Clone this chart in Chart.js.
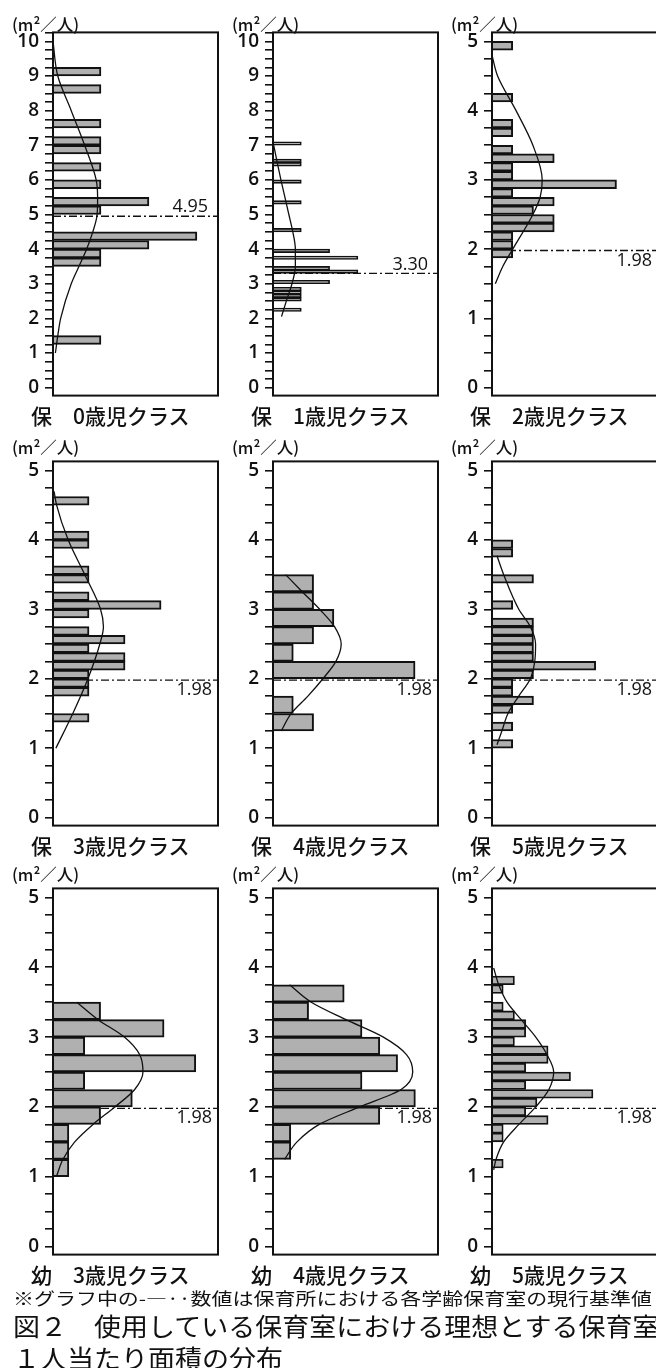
<!DOCTYPE html>
<html lang="ja">
<head>
<meta charset="utf-8">
<title>図2 保育室1人当たり面積の分布</title>
<script src="https://cdn.jsdelivr.net/npm/chart.js@4.4.1/dist/chart.umd.min.js"></script>
<style>
html, body { margin: 0; padding: 0; background: #fff; width: 656px; height: 1368px; overflow: hidden; }
body { position: relative; font-family: "Noto Sans CJK JP", sans-serif; color: #111; }
canvas { position: absolute; }
.unit { position: absolute; font-size: 16.5px; font-weight: 500; line-height: 1; white-space: nowrap; }
.cap { position: absolute; font-size: 21px; font-weight: 500; line-height: 1; white-space: nowrap; }
.note { position: absolute; left: 13px; line-height: 1; white-space: nowrap; transform-origin: left center; }
</style>
</head>
<body>
<script>
// 保育所 0歳児 (bins 0.25)
const hoiku0Bins = [9.125, 8.625, 7.625, 7.125, 6.875, 6.375, 5.875, 5.375, 5.125, 4.375, 4.125, 3.875, 3.625, 1.375];
const hoiku0Counts = [1, 1, 1, 1, 1, 1, 1, 2, 1, 3, 2, 1, 1, 1];
const hoiku0CurveAt = [10, 9, 8, 7, 6, 5.5, 5, 4.5, 4, 3.5, 3, 2, 1.5, 1];
const hoiku0Curve = [0, 0.1, 0.38, 0.66, 0.9, 0.93, 0.92, 0.83, 0.7, 0.54, 0.38, 0.16, 0.1, 0.05];

// 保育所 1歳児 (bins 0.1)
const hoiku1Bins = [7.05, 6.55, 6.45, 5.95, 5.35, 4.55, 3.95, 3.75, 3.45, 3.35, 3.05, 2.85, 2.75, 2.65, 2.55, 2.25];
const hoiku1Counts = [1, 1, 1, 1, 1, 1, 2, 3, 2, 3, 2, 1, 1, 1, 1, 1];
const hoiku1CurveAt = [7.1, 6.5, 6.0, 5.5, 5.0, 4.5, 4.0, 3.5, 3.0, 2.5, 2.05];
const hoiku1Curve = [0, 0.15, 0.28, 0.42, 0.56, 0.7, 0.79, 0.79, 0.67, 0.47, 0.3];

// 保育所 2歳児 (bins 0.125)
const hoiku2Bins = [4.9375, 4.1875, 3.8125, 3.6875, 3.4375, 3.3125, 3.1875, 3.0625, 2.9375, 2.8125, 2.6875, 2.5625, 2.4375, 2.3125, 2.1875, 2.0625, 1.9375];
const hoiku2Counts = [1, 1, 1, 1, 1, 3, 1, 1, 6, 1, 3, 2, 3, 3, 1, 1, 1];
const hoiku2CurveAt = [4.8, 4.5, 4.0, 3.5, 3.0, 2.75, 2.5, 2.0, 1.75, 1.5];
const hoiku2Curve = [0, 0.27, 1.16, 1.97, 2.42, 2.32, 1.97, 1.0, 0.52, 0.16];

// 保育所 3歳児 (bins 0.125)
const hoiku3Bins = [4.5625, 4.0625, 3.9375, 3.5625, 3.4375, 3.1875, 3.0625, 2.9375, 2.6875, 2.5625, 2.4375, 2.3125, 2.1875, 2.0625, 1.9375, 1.8125, 1.4375];
const hoiku3Counts = [1, 1, 1, 1, 1, 1, 3, 1, 1, 2, 1, 2, 2, 1, 1, 1, 1];
const hoiku3CurveAt = [4.7, 4.5, 4.0, 3.5, 3.0, 2.75, 2.5, 2.0, 1.5, 1.0];
const hoiku3Curve = [0.03, 0.1, 0.42, 0.88, 1.32, 1.4, 1.3, 0.97, 0.55, 0.08];

// 保育所 4歳児 (bins 0.25)
const hoiku4Bins = [3.375, 3.125, 2.875, 2.625, 2.375, 2.125, 1.625, 1.375];
const hoiku4Counts = [2, 2, 3, 2, 1, 7, 1, 2];
const hoiku4CurveAt = [3.5, 3.25, 3.0, 2.75, 2.5, 2.25, 2.0, 1.75, 1.5, 1.25];
const hoiku4Curve = [0.62, 1.45, 2.3, 3.03, 3.36, 3.1, 2.46, 1.72, 0.9, 0.41];

// 保育所 5歳児 (bins 0.125)
const hoiku5Bins = [3.9375, 3.8125, 3.4375, 3.0625, 2.8125, 2.6875, 2.5625, 2.4375, 2.3125, 2.1875, 2.0625, 1.9375, 1.8125, 1.6875, 1.5625, 1.3125, 1.0625];
const hoiku5Counts = [1, 1, 2, 1, 2, 2, 2, 2, 2, 5, 2, 1, 1, 2, 1, 1, 1];
const hoiku5CurveAt = [3.77, 3.5, 3.0, 2.75, 2.5, 2.25, 2.0, 1.75, 1.5, 1.25, 1.05];
const hoiku5Curve = [0.24, 0.56, 1.29, 1.85, 2.1, 2.06, 1.85, 1.29, 0.77, 0.48, 0.24];

// 幼稚園 3歳児 (bins 0.25)
const youchi3Bins = [3.375, 3.125, 2.875, 2.625, 2.375, 2.125, 1.875, 1.625, 1.375, 1.125];
const youchi3Counts = [3, 7, 2, 9, 2, 5, 3, 1, 1, 1];
const youchi3CurveAt = [3.5, 3.25, 3.0, 2.75, 2.5, 2.25, 2.0, 1.75, 1.5, 1.25, 1.0];
const youchi3Curve = [1.5, 2.84, 4.5, 5.46, 5.67, 5.15, 3.9, 2.52, 1.37, 0.63, 0.21];

// 幼稚園 4歳児 (bins 0.25)
const youchi4Bins = [3.625, 3.375, 3.125, 2.875, 2.625, 2.375, 2.125, 1.875, 1.625, 1.375];
const youchi4Counts = [4, 2, 5, 6, 7, 5, 8, 6, 1, 1];
const youchi4CurveAt = [3.75, 3.5, 3.25, 3.0, 2.75, 2.5, 2.25, 2.0, 1.75, 1.5, 1.25];
const youchi4Curve = [0.93, 2.15, 4.1, 6.2, 7.5, 7.85, 7.2, 4.86, 2.6, 1.35, 0.65];

// 幼稚園 5歳児 (bins 0.125)
const youchi5Bins = [3.8125, 3.6875, 3.4375, 3.3125, 3.1875, 3.0625, 2.9375, 2.8125, 2.6875, 2.5625, 2.4375, 2.3125, 2.1875, 2.0625, 1.9375, 1.8125, 1.6875, 1.5625, 1.1875];
const youchi5Counts = [2, 1, 1, 2, 3, 3, 2, 5, 5, 3, 7, 3, 9, 4, 3, 5, 1, 1, 1];
const youchi5CurveAt = [3.99, 3.75, 3.5, 3.25, 3.0, 2.75, 2.5, 2.25, 2.0, 1.75, 1.5, 1.25, 1.1];
const youchi5Curve = [0.15, 0.6, 1.34, 2.6, 3.9, 4.9, 5.5, 5.07, 3.9, 2.4, 1.04, 0.36, 0.15];

const panelTitles = ['保　0歳児クラス', '保　1歳児クラス', '保　2歳児クラス',
  '保　3歳児クラス', '保　4歳児クラス', '保　5歳児クラス',
  '幼　3歳児クラス', '幼　4歳児クラス', '幼　5歳児クラス'];
const standardValues = [4.95, 3.30, 1.98, 1.98, 1.98, 1.98, 1.98, 1.98, 1.98];
const standardLabels = ['4.95', '3.30', '1.98', '1.98', '1.98', '1.98', '1.98', '1.98', '1.98'];
const axisTop = [10, 10, 5, 5, 5, 5, 5, 5, 5];

// layout (page pixels) and scale extents
const colLeft = [53, 273, 492];
const colRight = [218, 438, 658];
const rowTop = [30, 459, 886];
const rowBottom = [398, 828, 1257];
const countMax = [3.44, 5.83, 8.0, 4.58, 8.13, 8.0, 10.4, 9.27, 14.8];
const barBorder = [2, 1.6, 2, 2, 2, 2, 2, 2, 1.8];

const panels = [
  [hoiku0Bins, hoiku0Counts, hoiku0CurveAt, hoiku0Curve],
  [hoiku1Bins, hoiku1Counts, hoiku1CurveAt, hoiku1Curve],
  [hoiku2Bins, hoiku2Counts, hoiku2CurveAt, hoiku2Curve],
  [hoiku3Bins, hoiku3Counts, hoiku3CurveAt, hoiku3Curve],
  [hoiku4Bins, hoiku4Counts, hoiku4CurveAt, hoiku4Curve],
  [hoiku5Bins, hoiku5Counts, hoiku5CurveAt, hoiku5Curve],
  [youchi3Bins, youchi3Counts, youchi3CurveAt, youchi3Curve],
  [youchi4Bins, youchi4Counts, youchi4CurveAt, youchi4Curve],
  [youchi5Bins, youchi5Counts, youchi5CurveAt, youchi5Curve]
];

Chart.defaults.font.family = '"Open Sans", sans-serif';
Chart.defaults.color = '#111';

// box round the plot area + the standard value text
const framePlugin = {
  id: 'frame',
  afterDraw(chart, args, opts) {
    const { ctx, chartArea: a } = chart;
    const y = chart.scales.y.getPixelForValue(opts.value);
    ctx.save();
    ctx.font = '18px "Open Sans"';
    ctx.fillStyle = '#111';
    ctx.textAlign = 'right';
    if (opts.above) {
      ctx.textBaseline = 'bottom';
      ctx.fillText(opts.text, a.right - 10, y);
    } else {
      ctx.textBaseline = 'top';
      ctx.fillText(opts.text, a.right - 6, y + 1);
    }
    ctx.lineWidth = 2;
    ctx.strokeStyle = '#111';
    ctx.strokeRect(a.left, a.top, a.right - a.left, a.bottom - a.top);
    ctx.restore();
  }
};

function addText(cls, text, left, top) {
  const d = document.createElement('div');
  d.className = cls;
  d.textContent = text;
  d.style.left = left + 'px';
  d.style.top = top + 'px';
  document.body.appendChild(d);
  return d;
}

panels.forEach((p, i) => {
  const [bins, counts, curveAt, curve] = p;
  const col = i % 3, row = Math.floor(i / 3);
  const canvas = document.createElement('canvas');
  canvas.width = colRight[col] - colLeft[col] + 55;
  canvas.height = rowBottom[row] - rowTop[row] + 30;
  canvas.style.left = (colLeft[col] - 53) + 'px';
  canvas.style.top = (rowTop[row] - 15) + 'px';
  document.body.appendChild(canvas);

  const top = axisTop[i];
  new Chart(canvas, {
    type: 'bar',
    data: {
      datasets: [
        {
          type: 'line',
          indexAxis: 'y',
          data: curveAt.map((v, k) => ({ x: curve[k], y: v })),
          borderColor: '#111',
          borderWidth: 1.3,
          pointRadius: 0,
          cubicInterpolationMode: 'monotone',
          order: -1
        },
        {
          type: 'bar',
          data: bins.map((v, k) => ({ x: counts[k], y: v })),
          backgroundColor: '#b0b0b0',
          borderColor: '#111',
          borderWidth: barBorder[i],
          barPercentage: 1,
          categoryPercentage: 1,
          order: 0
        },
        {
          type: 'line',
          indexAxis: 'y',
          data: [{ x: 0, y: standardValues[i] }, { x: countMax[i], y: standardValues[i] }],
          borderColor: '#111',
          borderWidth: 1.4,
          borderDash: [8, 3, 2, 3],
          pointRadius: 0,
          order: 1
        }
      ]
    },
    options: {
      indexAxis: 'y',
      responsive: false,
      animation: false,
      events: [],
      layout: { padding: { top: 15, bottom: 15, left: 0, right: 2 } },
      plugins: {
        legend: { display: false },
        tooltip: { enabled: false },
        frame: { value: standardValues[i], text: standardLabels[i], above: i < 2 }
      },
      scales: {
        x: { type: 'linear', display: false, min: 0, max: countMax[i] },
        y: {
          type: 'linear',
          min: -0.023 * top,
          max: 1.026 * top,
          offset: false,
          afterFit: (s) => { s.width = 53; },
          border: { display: false },
          grid: { drawOnChartArea: false, tickLength: 8, color: '#111', lineWidth: 1.6, offset: false },
          ticks: {
            stepSize: 0.25,
            autoSkip: false,
            includeBounds: false,
            padding: 6,
            color: '#111',
            font: { size: 19, weight: '600' },
            callback: (v) => (Math.abs(v - Math.round(v)) < 1e-6 ? String(Math.round(v)) : '')
          }
        }
      }
    },
    plugins: [framePlugin]
  });

  addText('unit', '(m²／人)', colLeft[col] - 41, rowTop[row] - (row === 0 ? 14 : 20));
  addText('cap', panelTitles[i], colLeft[col] - 22, rowBottom[row] + 7);
});

const n1 = addText('note', '※グラフ中の-—··数値は保育所における各学齢保育室の現行基準値', 13, 1289);
n1.style.fontSize = '17px';
n1.style.transform = 'scaleX(' + (639 / n1.offsetWidth) + ')';
const n2 = addText('note', '図２　使用している保育室における理想とする保育室', 13, 1313);
n2.style.fontSize = '25px';
const k2 = 647 / n2.offsetWidth;
n2.style.transform = 'scaleX(' + k2 + ')';
const n3 = addText('note', '１人当たり面積の分布', 13, 1345);
n3.style.fontSize = '25px';
n3.style.transform = 'scaleX(' + k2 + ')';
</script>
</body>
</html>
